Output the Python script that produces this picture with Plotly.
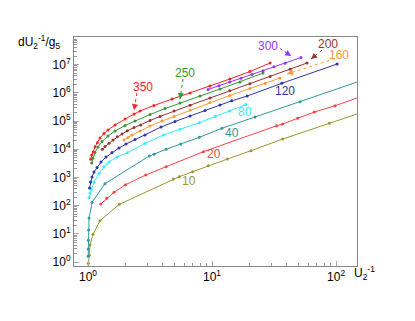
import math
import plotly.graph_objects as go

# curves: U2^-1 (x) against dU2^-1/g5 (y), one per label
olive_x = [1.003, 1.006, 1.024, 1.038, 1.097, 1.25, 1.79, 4.87, 5.45, 6.98, 9.33, 13.3, 20.6, 37.2, 88.3, 200]
olive_y = [0.5, 0.9, 1.73, 4.0, 9.6, 29.2, 111, 877, 1059, 1592, 2600, 4490, 8850, 23000, 82800, 2.77e5]

red20_x = [1.266, 1.415, 1.62, 2.01, 2.92, 4.26, 8.51, 33.2, 37.1, 49, 66.8, 98.2, 200]
red20_y = [114, 182, 296, 551, 1217, 2395, 8150, 68100, 78300, 1.25e5, 2.08e5, 3.49e5, 1.04e6]

teal_x = [1.003, 1.004, 1.006, 1.01, 1.02, 1.08, 1.37, 3.12, 3.41, 4.26, 5.59, 7.9, 12.0, 22.2, 51.3, 200]
teal_y = [1.6, 2.9, 5.9, 13.6, 36, 132, 600, 5740, 6590, 9920, 15300, 26400, 55100, 1.39e5, 4.83e5, 3.8e6]

cyan_x = [1.019, 1.038, 1.063, 1.118, 1.227, 1.346, 1.477, 1.714, 2.073, 2.88, 4.05, 5.52, 7.91, 10.6, 13.9, 18.8]
cyan_y = [190, 280, 378, 670, 1397, 2340, 3513, 5290, 7520, 15900, 31900, 50800, 87100, 1.45e5, 2.26e5, 3.85e5]

blue_x = [1.028, 1.047, 1.077, 1.118, 1.182, 1.273, 1.397, 1.561, 1.778, 2.024, 2.393, 2.88, 3.88, 5.03,
          6.65, 8.78, 11.6, 14.4, 19.2, 36.5, 102]
blue_y = [421, 687, 1033, 1553, 2243, 3513, 5290, 7640, 11000, 15300, 22100, 31900, 61300, 96000,
          1.5e5, 2.36e5, 3.69e5, 5.2e5, 7.7e5, 2.17e6, 1.05e7]

orange_x = [1.95, 2.10, 2.26, 2.63, 3.16, 3.95, 4.94, 6.65, 9.63, 13.9, 20.2, 26.8, 35.3]
orange_y = [21200, 26000, 31900, 44200, 66500, 1.0e5, 1.45e5, 2.45e5, 4.53e5, 8.02e5, 1.42e6, 2.14e6, 3.35e6]

brown_x = [1.304, 1.371, 1.477, 1.591, 1.723, 1.88, 2.073, 2.35, 2.66, 3.16, 3.81, 4.94, 6.65, 9.63,
           13.9, 20.2, 29.4, 42.6, 58.3]
brown_y = [9910, 12500, 16200, 21200, 27700, 34600, 45300, 58900, 72100, 1.04e5, 1.45e5, 2.26e5, 3.63e5,
           6.54e5, 1.18e6, 2.12e6, 3.82e6, 6.87e6, 1.14e7]

green_x = [1.071, 1.097, 1.139, 1.204, 1.297, 1.45, 1.65, 1.99, 2.39, 3.16, 4.18, 5.52, 8.0, 11.6, 16.8, 25.8]
green_y = [3240, 4880, 7640, 11970, 18750, 29400, 44200, 69200, 1.0e5, 1.70e5, 2.77e5, 4.35e5, 7.7e5,
           1.36e6, 2.42e6, 5.0e6]

purple_x = [9.29, 11.4, 13.9, 17.1, 21.0, 25.8, 31.6, 38.8, 52.2]
purple_y = [1.31e6, 1.79e6, 2.41e6, 3.30e6, 4.49e6, 6.12e6, 8.36e6, 1.13e7, 1.79e7]

red350_x = [1.051, 1.071, 1.103, 1.139, 1.189, 1.25, 1.346, 1.45, 1.65, 1.99, 2.35, 2.63, 3.4, 4.76,
            6.65, 9.63, 13.9, 20.2, 29.4]
red350_y = [4390, 6220, 8150, 12300, 17000, 24900, 36000, 48000, 72100, 1.18e5, 1.77e5, 2.26e5, 3.55e5,
            6.0e5, 9.8e5, 1.74e6, 3.08e6, 5.7e6, 1.14e7]

curves = [
    ("10", olive_x, olive_y, "#999933"),
    ("20", red20_x, red20_y, "#ff4444"),
    ("40", teal_x, teal_y, "#339999"),
    ("80", cyan_x, cyan_y, "#33eeff"),
    ("120", blue_x, blue_y, "#3333aa"),
    ("160", orange_x, orange_y, "#ff9933"),
    ("200", brown_x, brown_y, "#993333"),
    ("250", green_x, green_y, "#339933"),
    ("300", purple_x, purple_y, "#9933ff"),
    ("350", red350_x, red350_y, "#ff2222"),
]

# label positions (data units)
label_pos = {
    "10": (6.56, 745), "20": (10.4, 6760), "40": (14.6, 3.91e4), "80": (18.5, 2.17e5),
    "120": (38.6, 1.18e6), "160": (105.7, 2.28e7), "200": (86.1, 5.6e7), "250": (6.06, 5.0e6),
    "300": (28.3, 4.6e7), "350": (2.78, 1.61e6),
}
# dashed pointers: (tail, tip)
pointers = {
    "350": ((2.48, 9.84e5), (2.35, 2.45e5)),
    "250": ((5.84, 3.08e6), (5.52, 6.03e5)),
    "300": ((35.3, 3.72e7), (43.4, 2.02e7)),
    "200": ((77.1, 3.3e7), (62.9, 1.58e7)),
    "160": ((87.9, 1.4e7), (40.3, 4.64e6)),
}

x_ticks = [1, 10, 100]
x_ticktext = ["10<sup>0</sup>", "10<sup>1</sup>", "10<sup>2</sup>"]
y_ticks = [1, 10, 100, 1e3, 1e4, 1e5, 1e6, 1e7]
y_ticktext = ["10<sup>%d</sup>" % i for i in range(8)]

font = "Liberation Sans, Arial, sans-serif"
fig = go.Figure()
colors = {}
for name, xs, ys, col in curves:
    colors[name] = col
    fig.add_trace(go.Scatter(x=xs, y=ys, mode="lines+markers", name=name,
                             line=dict(color=col, width=1),
                             marker=dict(color=col, size=3, symbol="circle")))

annotations = []
for name, (lx, ly) in label_pos.items():
    annotations.append(dict(x=math.log10(lx), y=math.log10(ly), xref="x", yref="y", text=name,
                            showarrow=False, font=dict(family=font, size=12, color=colors[name])))

for name, (tail, tip) in pointers.items():
    col = colors[name]
    fig.add_trace(go.Scatter(x=[tail[0], tip[0]], y=[tail[1], tip[1]], mode="lines",
                             line=dict(color=col, width=1, dash="dot"), hoverinfo="skip"))
    dx = (math.log10(tip[0]) - math.log10(tail[0])) * 124
    dy = -(math.log10(tip[1]) - math.log10(tail[1])) * 28.2
    n = math.hypot(dx, dy)
    annotations.append(dict(x=math.log10(tip[0]), y=math.log10(tip[1]), xref="x", yref="y", text="",
                            showarrow=True, arrowhead=2, arrowsize=1, arrowwidth=1.2, arrowcolor=col,
                            ax=-dx / n * 5, ay=-dy / n * 5))

annotations.append(dict(x=-0.042, y=0.98, xref="paper", yref="paper", xanchor="right", yanchor="middle",
                        text="dU<sub>2</sub><sup>-1</sup>/g<sub>5</sub>", showarrow=False,
                        font=dict(family=font, size=12, color="black")))
annotations.append(dict(x=0.982, y=-0.031, xref="paper", yref="paper", xanchor="left", yanchor="middle",
                        text="U<sub>2</sub><sup>-1</sup>", showarrow=False,
                        font=dict(family=font, size=12, color="black")))

# the page body adds an 8px offset, so margins are trimmed by 8 on the left/top
fig.update_layout(
    width=415, height=321,
    margin=dict(l=66, r=66, t=29, b=63),
    paper_bgcolor="white", plot_bgcolor="white",
    showlegend=False,
    font=dict(family=font, size=12, color="black"),
    annotations=annotations,
)
fig.update_xaxes(type="log", range=[-0.113, 2.169], showgrid=False, zeroline=False,
                 showline=True, mirror=True, linecolor="#888888", linewidth=1,
                 tickmode="array", tickvals=x_ticks, ticktext=x_ticktext,
                 ticks="inside", ticklen=5, tickcolor="#aaaaaa",
                 minor=dict(tickvals=[m * 10 ** e for e in range(0, 3) for m in range(2, 10)],
                            ticks="inside", ticklen=3, tickcolor="#999999"),
                 tickfont=dict(family=font, size=12))
fig.update_yaxes(type="log", range=[-0.142, 7.98], showgrid=False, zeroline=False,
                 showline=True, mirror=True, linecolor="#888888", linewidth=1,
                 tickmode="array", tickvals=y_ticks, ticktext=y_ticktext,
                 ticks="inside", ticklen=5, tickcolor="#aaaaaa",
                 minor=dict(tickvals=[m * 10 ** e for e in range(0, 8) for m in range(2, 10)],
                            ticks="inside", ticklen=3, tickcolor="#999999"),
                 tickfont=dict(family=font, size=12))

fig.write_html("out.html")
